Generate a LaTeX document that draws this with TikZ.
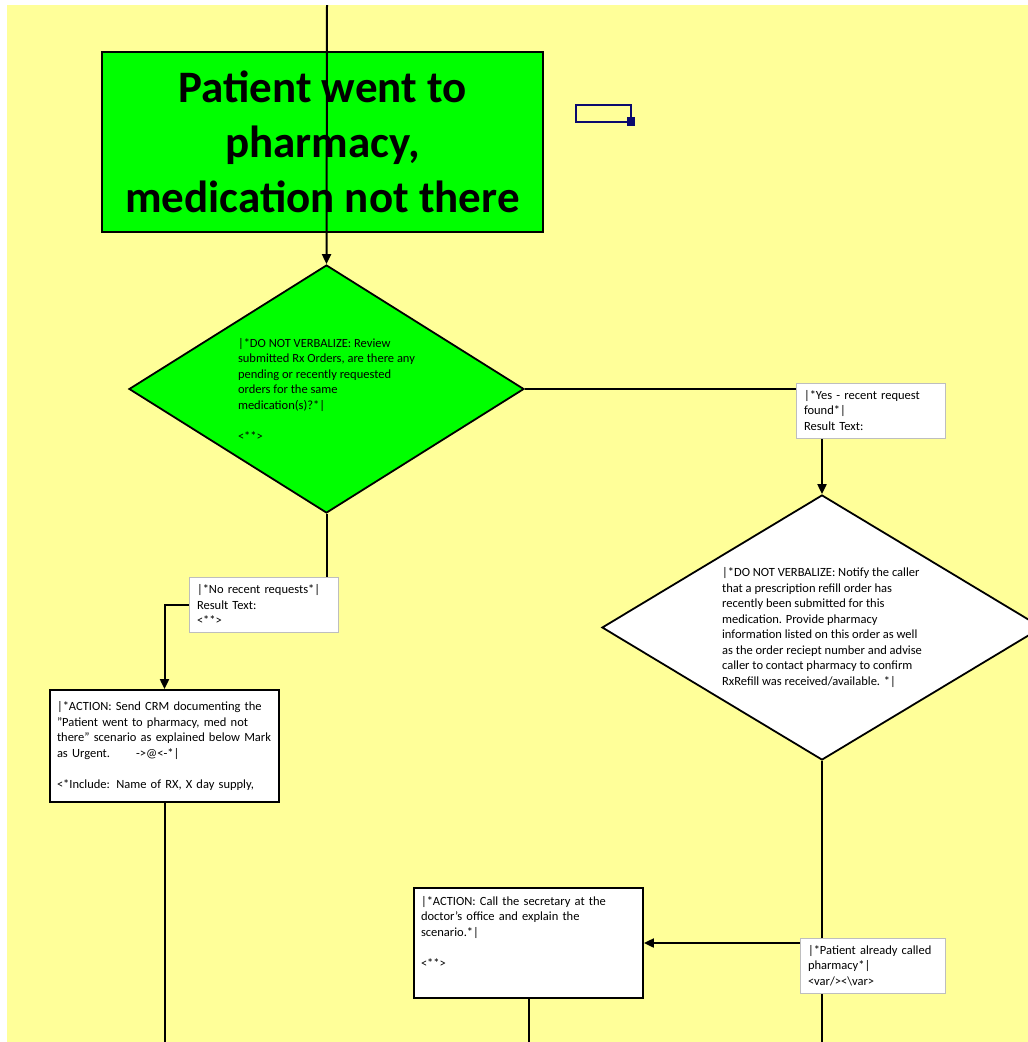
\documentclass[tikz,border=0pt]{standalone}
\usepackage{fontspec}
\setmainfont{Carlito}
\usetikzlibrary{shapes.geometric, arrows.meta, positioning, calc}
\definecolor{padyellow}{RGB}{255,255,153}
\definecolor{flowgreen}{RGB}{0,255,0}
\definecolor{markblue}{RGB}{10,10,110}
\definecolor{notegray}{RGB}{190,190,190}
\pgfdeclarelayer{back}
\pgfsetlayers{back,main}
\hyphenpenalty=10000

\begin{document}
\begin{tikzpicture}[x=1pt, y=-1pt, >={Triangle[length=10pt,width=9pt]},
        titlebox/.style={draw, line width=1.8pt, fill=flowgreen, minimum width=441pt, minimum height=180pt, align=center, font=\fontsize{45}{55}\selectfont\bfseries},
        decision/.style={draw, diamond, line width=1.8pt, inner sep=0pt, align=left, font=\fontsize{12.5}{15.5}\selectfont},
        actionbox/.style={draw, line width=1.8pt, fill=white, minimum width=229pt, inner xsep=7pt, text width=215pt, align=left, font=\fontsize{12.5}{15.5}\selectfont},
        resultbox/.style={draw=notegray, line width=0.8pt, fill=white, minimum height=55pt, inner xsep=8pt, align=left, font=\fontsize{12.5}{15.5}\selectfont},
        flow/.style={line width=2pt}]
        \useasboundingbox (0,0) rectangle (1028,1042);
        \clip (0,0) rectangle (1028,1042);
        \coordinate (top) at (327,5);
        \coordinate (btm) at (0,1042);

        \node[titlebox] (title) at (322.5,142) {Patient went to\\pharmacy,\\medication not there};
        \node[decision, fill=flowgreen, minimum width=395pt, minimum height=248pt, shape aspect=1.6] (q1) at (326.5,389)
            {|*DO NOT VERBALIZE: Review\\submitted Rx Orders, are there any\\pending or recently requested\\orders for the same\\medication(s)?*|\\[15.5pt]<**>};
        \node[decision, fill=white, minimum width=440pt, minimum height=265pt, shape aspect=1.66] (q2) at (822,627.5)
            {|*DO NOT VERBALIZE: Notify the caller\\that a prescription refill order has\\recently been submitted for this\\medication. Provide pharmacy\\information listed on this order as well\\as the order reciept number and advise\\caller to contact pharmacy to confirm\\RxRefill was received/available. *|};
        \node[resultbox, minimum width=149pt, text width=133pt] (yes) at (870.5,410.5) {|*Yes - recent request\\found*|\\Result Text:};
        \node[resultbox, minimum width=149pt, text width=133pt] (no) at (263.5,604.5) {|*No recent requests*|\\Result Text:\\<**>};
        \node[actionbox, minimum height=112pt] (act1) at (164.5,746)
            {|*ACTION: Send CRM documenting the\\"Patient went to pharmacy, med not\\there" scenario as explained below Mark\\as Urgent.\hspace{26pt}->@<-*|\\[15.5pt]<*Include: Name of RX, X day supply,};
        \node[actionbox, minimum height=110pt, text depth=85pt] (act2) at (528.5,943)
            {|*ACTION: Call the secretary at the\\doctor's office and explain the\\scenario.*|\\[15.5pt]<**>};
        \node[resultbox, minimum width=145pt, text width=129pt] (called) at (872.5,965.5) {|*Patient already called\\pharmacy*|\\<var/><\textbackslash var>};

        % selection mark
        \draw[markblue, line width=2.8pt] (576,105) rectangle (631,122);
        \fill[markblue] (627,117) rectangle (635,126);

        \draw[flow, ->] (top) -- (q1.north);
        \begin{pgfonlayer}{back}
            \fill[padyellow] (7,5) rectangle (1028,1042);
            \draw[flow, ->] (q1.east) -| (q2.north);
            \draw[flow, ->] (q1.south) |- (no) -| (act1.north);
            \draw[flow] (q2.south) -- (q2.south |- btm);
            \draw[flow, ->] (act2.east -| q2.south) -- (act2.east);
            \draw[flow] (act1.south) -- (act1.south |- btm);
            \draw[flow] (act2.south) -- (act2.south |- btm);
        \end{pgfonlayer}
    \end{tikzpicture}
\end{document}
